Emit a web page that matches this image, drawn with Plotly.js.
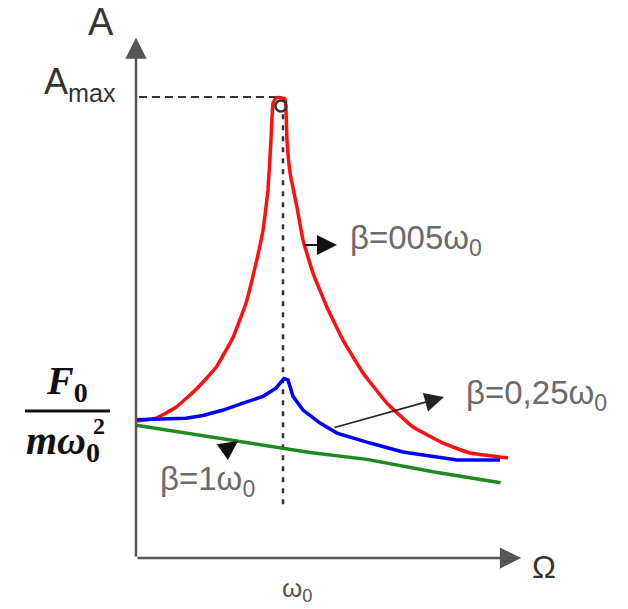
<!DOCTYPE html>
<html>
<head>
<meta charset="utf-8">
<script src="https://cdn.plot.ly/plotly-3.0.1.min.js"></script>
<style>html,body{margin:0;padding:0;background:#fff;}#chart{width:628px;height:609px;}</style>
</head>
<body>
<div id="chart"></div>
<script>
// x: Ω/ω0, y: A in units of F0/(m ω0^2)
const redX   = [0, 0.136, 0.272, 0.408, 0.544, 0.660, 0.748, 0.816, 0.864, 0.898, 0.918, 0.932, 0.952, 0.980, 1.014, 1.027, 1.048, 1.095, 1.136, 1.204, 1.299, 1.408, 1.544, 1.707, 1.884, 2.088, 2.272, 2.531];
const redY   = [1.00, 1.02, 1.10, 1.23, 1.39, 1.61, 1.86, 2.15, 2.39, 2.69, 3.05, 3.32, 3.36, 3.36, 3.35, 3.05, 2.81, 2.56, 2.32, 2.08, 1.83, 1.59, 1.35, 1.13, 0.956, 0.839, 0.766, 0.730];
const blueX  = [0, 0.340, 0.456, 0.592, 0.728, 0.864, 0.952, 1.007, 1.034, 1.068, 1.136, 1.252, 1.367, 1.592, 1.816, 2.048, 2.184, 2.476];
const blueY  = [1.01, 1.02, 1.04, 1.08, 1.13, 1.18, 1.24, 1.31, 1.30, 1.18, 1.08, 0.985, 0.912, 0.839, 0.774, 0.737, 0.715, 0.715];
const greenX = [0, 0.415, 0.864, 1.184, 1.571, 2.02, 2.48];
const greenY = [0.97, 0.90, 0.82, 0.77, 0.72, 0.63, 0.55];
const omega0 = 1.0;
const Amax = 3.365;
const peakX = [0.986];
const peakY = [3.30];
const labels = {
  red: "β=005ω<sub>0</sub>",
  blue: "β=0,25ω<sub>0</sub>",
  green: "β=1ω<sub>0</sub>"
};

// pixel -> paper helpers for text placement (plot area: x 136..521, y 37..558)
const PX = p => (p - 136) / 385;
const PY = p => (558 - p) / 521;

const traces = [
  {x: redX, y: redY, mode: 'lines', line: {color: '#ff1010', width: 3.5, shape: 'spline', smoothing: 0.3}, hoverinfo: 'skip'},
  {x: blueX, y: blueY, mode: 'lines', line: {color: '#0000ff', width: 3.5}, hoverinfo: 'skip'},
  {x: greenX, y: greenY, mode: 'lines', line: {color: '#1f8a1f', width: 3.5}, hoverinfo: 'skip'},
  {x: peakX, y: peakY, mode: 'markers', marker: {symbol: 'circle-open', size: 11, color: '#333', line: {width: 2.5, color: '#333'}}, hoverinfo: 'skip'}
];

const axColor = '#555';
const lblFont = {family: 'Liberation Sans, Arial, sans-serif', size: 33, color: '#6a6a6a'};
const serif = 'Liberation Serif, Times New Roman, serif';
const sans = 'Liberation Sans, Arial, sans-serif';

function txt(px, py, text, font, xanchor) {
  return {x: PX(px), y: PY(py), xref: 'paper', yref: 'paper', text: text, showarrow: false,
          xanchor: xanchor || 'center', yanchor: 'middle', font: font};
}

const annotations = [
  // axes arrows
  {x: 0, y: 3.80, ax: 0, ay: 0, xref: 'x', yref: 'y', axref: 'x', ayref: 'y', text: '', showarrow: true, arrowhead: 2, arrowsize: 1.7, arrowwidth: 2.5, arrowcolor: axColor, standoff: 0, startstandoff: 0},
  {x: 2.62, y: 0, ax: 0, ay: 0, xref: 'x', yref: 'y', axref: 'x', ayref: 'y', text: '', showarrow: true, arrowhead: 2, arrowsize: 1.7, arrowwidth: 2.5, arrowcolor: axColor, standoff: 0, startstandoff: 0},
  // label arrows
  {x: 1.367, y: 2.285, ax: 1.136, ay: 2.285, xref: 'x', yref: 'y', axref: 'x', ayref: 'y', text: '', showarrow: true, arrowhead: 2, arrowsize: 2.0, arrowwidth: 2, arrowcolor: '#111'},
  {x: 2.095, y: 1.175, ax: 1.34, ay: 0.949, xref: 'x', yref: 'y', axref: 'x', ayref: 'y', text: '', showarrow: true, arrowhead: 2, arrowsize: 2.4, arrowwidth: 1.6, arrowcolor: '#222'},
  {x: 0.694, y: 0.854, ax: 0.578, ay: 0.766, xref: 'x', yref: 'y', axref: 'x', ayref: 'y', text: '', showarrow: true, arrowhead: 2, arrowsize: 2.4, arrowwidth: 1.6, arrowcolor: '#111'},
  // texts
  txt(101, 22, 'A', {family: sans, size: 38, color: '#333'}),
  txt(42, 84, 'A<sub>max</sub>', {family: sans, size: 36, color: '#333'}, 'left'),
  txt(67, 383, '<b><i>F</i></b><b><sub>0</sub></b>', {family: serif, size: 40, color: '#111'}),
  txt(24, 443, '<b><i>mω</i></b><b><sub>0</sub></b>', {family: serif, size: 40, color: '#111'}, 'left'),
  txt(99, 426, '<b>2</b>', {family: serif, size: 24, color: '#111'}),
  txt(297, 589, 'ω<sub>0</sub>', {family: sans, size: 26, color: '#555'}),
  txt(544, 567, 'Ω', {family: sans, size: 32, color: '#333'}),
  txt(348, 240, labels.red, lblFont, 'left'),
  txt(464, 395, labels.blue, lblFont, 'left'),
  txt(158, 481, labels.green, lblFont, 'left')
];

const shapes = [
  {type: 'line', xref: 'x', yref: 'y', x0: 0.02, x1: omega0 - 0.05, y0: Amax, y1: Amax, line: {color: '#333', width: 2, dash: '8px,5px'}},
  {type: 'line', xref: 'x', yref: 'y', x0: omega0, x1: omega0, y0: 3.24, y1: 0.39, line: {color: '#333', width: 2.5, dash: '5px,6px'}, layer: 'below'},
  {type: 'line', xref: 'paper', yref: 'paper', x0: PX(25), x1: PX(110), y0: PY(411), y1: PY(411), line: {color: '#111', width: 3}}
];

const layout = {
  width: 628, height: 609,
  margin: {l: 136, r: 107, t: 37, b: 51},
  paper_bgcolor: '#fff', plot_bgcolor: '#fff',
  showlegend: false,
  xaxis: {range: [0, 2.619], showgrid: false, zeroline: false, showticklabels: false, showline: false, ticks: ''},
  yaxis: {range: [0, 3.803], showgrid: false, zeroline: false, showticklabels: false, showline: false, ticks: ''},
  annotations: annotations,
  shapes: shapes
};

Plotly.newPlot('chart', traces, layout, {staticPlot: true, displayModeBar: false});
</script>
</body>
</html>
